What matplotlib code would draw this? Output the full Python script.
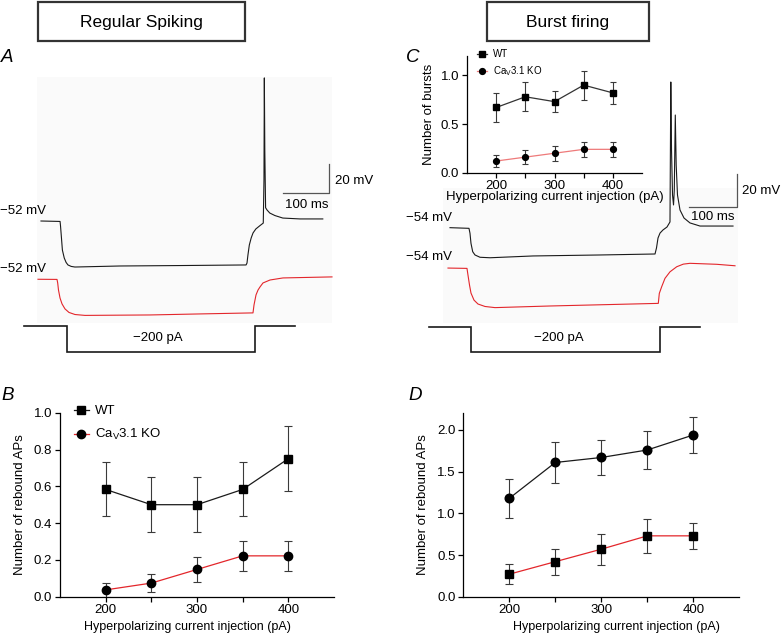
import matplotlib
matplotlib.use('Agg')
import matplotlib.pyplot as plt
from matplotlib.patches import Rectangle

plt.rcParams['font.family'] = ['Liberation Sans', 'DejaVu Sans']
plt.rcParams['mathtext.default'] = 'regular'
plt.rcParams['axes.linewidth'] = 0.9

W, H = 782, 639
fig = plt.figure(figsize=(W / 100, H / 100), dpi=100)


def box(x0, y0, x1, y1):
    return [x0 / W, 1 - y1 / H, (x1 - x0) / W, (y1 - y0) / H]


def T(px, py, s, **kw):
    return fig.text(px / W, 1 - py / H, s, **kw)


# ------------------------------------------------------------------ data
currents = [200, 250, 300, 350, 400]
ko_label = 'Ca$_\\mathregular{V}$3.1 KO'

# Panel B (regular spiking) rebound APs
B_wt = [0.583, 0.50, 0.50, 0.583, 0.75]
B_wt_err = [0.147, 0.15, 0.15, 0.147, 0.178]
B_ko = [0.037, 0.074, 0.148, 0.222, 0.222]
B_ko_err = [0.036, 0.05, 0.068, 0.08, 0.08]

# Panel C inset (burst firing) number of bursts
C_wt = [0.67, 0.78, 0.73, 0.90, 0.82]
C_wt_err = [0.15, 0.15, 0.11, 0.15, 0.11]
C_ko = [0.12, 0.16, 0.20, 0.24, 0.24]
C_ko_err = [0.065, 0.07, 0.075, 0.08, 0.08]

# Panel D (burst firing) rebound APs
D_wt = [1.18, 1.61, 1.67, 1.76, 1.94]
D_wt_err = [0.23, 0.25, 0.21, 0.23, 0.22]
D_ko = [0.27, 0.42, 0.57, 0.73, 0.73]
D_ko_err = [0.12, 0.155, 0.185, 0.20, 0.16]

# Panel A traces (ms, mV)
A_wt_t = [0, 41, 42, 44, 46, 50, 54, 58, 65, 73, 170, 300, 441, 443, 445, 448,
          452, 456, 462, 471, 478, 479.5, 480.3, 481.3, 483, 486, 492, 503, 520,
          557, 606]
A_wt_v = [-52, -52.3, -55.4, -63.5, -71.7, -77.1, -80.1, -81.8, -82.8, -83.2,
          -82.5, -82.2, -81.8, -80.5, -75.1, -68.3, -63.5, -60.1, -57.4, -55.1,
          -53.4, -24, 45, -4, -43, -44.5, -46.6, -48.3, -50.0, -50.6, -50.6]
A_ko_t = [-6.5, 34.4, 35.9, 37.6, 40.9, 45.2, 51.6, 60.2, 73.1, 94.6, 234.4,
          341.9, 455.9, 458.1, 462.4, 466.7, 471.0, 477.4, 492.5, 520.4, 625.8]
A_ko_v = [-52, -52.1, -54.5, -59.3, -64.7, -68.7, -72.1, -74.5, -75.9, -76.5,
          -76.2, -75.5, -74.8, -69.4, -62.6, -59.3, -57.2, -54.5, -52.5, -51.1,
          -50.4]
A_step_t = [-37, 56, 56, 460, 460, 546]
A_step_i = [0, 0, -200, -200, 0, 0]

# Panel C traces (ms, mV)
C_wt_t = [0, 39.8, 41.9, 44.0, 47.6, 52.4, 62.9, 83.9, 174, 314.5, 429.8,
          432.9, 436.1, 440.3, 446.5, 454.9, 461.2, 462.9, 464.4, 466.5, 468.6,
          470.2, 472.3, 474.2, 476.9, 482.2, 490.6, 503.1, 524.1, 593.3]
C_wt_v = [-53.8, -54.2, -57.2, -63.4, -68.5, -70.5, -71.9, -72.2, -71.1, -70.5,
          -69.9, -66.2, -60.1, -57.1, -55.2, -53.4, -50.3, 35.3, -6.3, -33.8,
          -39.9, -30.8, 15.1, -15.5, -33.8, -43.0, -47.9, -50.9, -52.8, -52.8]
C_ko_t = [-4.2, 35.6, 37.7, 40.9, 44.0, 50.3, 58.7, 73.4, 94.3, 209.6, 436.7,
          438.8, 443.8, 450.7, 461.2, 475.3, 489.1, 503.1, 559.1, 597.5]
C_ko_v = [-54, -54.2, -58.3, -64.4, -69.3, -73.6, -76.0, -77.5, -78.2, -77.2,
          -75.6, -69.5, -65.4, -60.3, -56.3, -53.2, -51.6, -51.1, -51.7, -52.6]
C_step_t = [-44, 44, 44, 440, 440, 524]
C_step_i = [0, 0, -200, -200, 0, 0]

BLACK = '#1a1a1a'
RED = '#e3262b'
ERR = '#3a3a3a'


# ------------------------------------------------------------------ traces
def trace_panel(rect_px, t0px, pxms, v0px, pxmv, v0, wt, ko, ko_offset,
                step, step_zero, step_scale, bar, bg):
    x0, y0, x1, y1 = rect_px
    fig.add_artist(Rectangle((bg[0] / W, 1 - bg[3] / H),
                             (bg[2] - bg[0]) / W, (bg[3] - bg[1]) / H,
                             transform=fig.transFigure, facecolor='#fafafa',
                             edgecolor='none', zorder=0))
    ax = fig.add_axes(box(*rect_px))
    ax.axis('off')
    ax.set_xlim((x0 - t0px) / pxms, (x1 - t0px) / pxms)
    ax.set_ylim(v0 - (y1 - v0px) / pxmv, v0 + (v0px - y0) / pxmv)
    ax.plot(wt[0], wt[1], color=BLACK, lw=0.8)
    ax.plot(ko[0], [v - ko_offset for v in ko[1]], color=RED, lw=0.8)
    ax.plot(step[0], [step_zero + i * step_scale for i in step[1]],
            color=BLACK, lw=1.2, solid_joinstyle='miter')
    bt, bv = bar
    ax.plot([bt - 100, bt, bt], [bv, bv, bv + 20], color='#555555', lw=0.9)
    return ax


axA = trace_panel((0, 60, 400, 360), 41, 0.465, 221, 1.475, -52,
                  (A_wt_t, A_wt_v), (A_ko_t, A_ko_v), 39.5,
                  (A_step_t, A_step_i), -123.2, 17.6 / 200, (620, -33.2),
                  (37, 77, 332, 323))
axCt = trace_panel((400, 60, 782, 360), 450, 0.477, 228, 1.635, -54,
                   (C_wt_t, C_wt_v), (C_ko_t, C_ko_v), 24.5,
                   (C_step_t, C_step_i), -114.6, 15.3 / 200, (601, -41.0),
                   (443, 188, 738, 323))

fs_small = 9.5
T(0, 211, '\u221252 mV', fontsize=fs_small, va='center', ha='left')
T(0, 269, '\u221252 mV', fontsize=fs_small, va='center', ha='left')
T(335, 181, '20 mV', fontsize=fs_small, va='center', ha='left')
T(306.5, 205, '100 ms', fontsize=fs_small, va='center', ha='center')
T(158, 338, '\u2212200 pA', fontsize=fs_small, va='center', ha='center')

T(406, 218, '\u221254 mV', fontsize=fs_small, va='center', ha='left')
T(406, 257, '\u221254 mV', fontsize=fs_small, va='center', ha='left')
T(742, 191, '20 mV', fontsize=fs_small, va='center', ha='left')
T(712.5, 217, '100 ms', fontsize=fs_small, va='center', ha='center')
T(559, 338, '\u2212200 pA', fontsize=fs_small, va='center', ha='center')

# title boxes
for (bx0, by0, bx1, by1, lab) in [(38, 2, 245, 41, 'Regular Spiking'),
                                  (487, 2, 649, 41, 'Burst firing')]:
    fig.add_artist(Rectangle((bx0 / W, 1 - by1 / H), (bx1 - bx0) / W,
                             (by1 - by0) / H, transform=fig.transFigure,
                             facecolor='white', edgecolor='#333333', lw=1.6))
    T((bx0 + bx1) / 2, (by0 + by1) / 2 + 1, lab, fontsize=12.5, ha='center',
      va='center')

# panel letters
for (px, py, lab) in [(1, 57, 'A'), (406, 58, 'C'), (1, 395, 'B'),
                      (408, 395, 'D')]:
    T(px, py, lab, fontsize=13.5, style='italic', ha='left', va='center')


# ------------------------------------------------------------------ stats
def stat_axes(rect_px, ylim, yticks, fs):
    ax = fig.add_axes(box(*rect_px))
    ax.set_facecolor('none')
    ax.set_xlim(150, 450)
    ax.set_ylim(*ylim)
    ax.spines['top'].set_visible(False)
    ax.spines['right'].set_visible(False)
    ax.set_xticks([200, 300, 400])
    ax.set_xticks([250, 350], minor=True)
    ax.set_yticks(yticks)
    ax.set_yticklabels(['%.1f' % v for v in yticks])
    ax.tick_params(which='both', direction='out', length=3.5, width=0.9,
                   labelsize=fs, pad=2)
    return ax


def series(ax, y, err, marker, lcolor, ms, cap, label=None):
    ax.errorbar(currents, y, yerr=err, fmt='none', ecolor=ERR, elinewidth=0.8,
                capsize=cap, capthick=0.8, zorder=2)
    ax.plot(currents, y, color=lcolor, lw=0.9, marker=marker, ms=ms,
            mfc='black', mec='black', zorder=3, label=label)


XLAB = 'Hyperpolarizing current injection (pA)'

axB = stat_axes((60, 412.7, 334, 596.7), (0, 1.0),
                [0, 0.2, 0.4, 0.6, 0.8, 1.0], 9.5)
series(axB, B_wt, B_wt_err, 's', BLACK, 6, 3, 'WT')
series(axB, B_ko, B_ko_err, 'o', RED, 6, 3, ko_label)
axB.set_ylabel('Number of rebound APs', fontsize=9.5, labelpad=6)
axB.set_xlabel(XLAB, fontsize=9, labelpad=5)
axB.xaxis.set_label_coords((187 - 60) / 274, -0.13)
axB.legend(loc='upper left', bbox_to_anchor=(74 / W, 1 - 405 / H),
           bbox_transform=fig.transFigure, frameon=False, fontsize=9.5,
           handlelength=1.1, handletextpad=0.5, labelspacing=0.75,
           borderpad=0, borderaxespad=0)

axD = stat_axes((463.3, 413.3, 739.3, 596.7), (0, 2.2),
                [0, 0.5, 1.0, 1.5, 2.0], 9.5)
series(axD, D_wt, D_wt_err, 'o', BLACK, 6.2, 3)
series(axD, D_ko, D_ko_err, 's', RED, 6, 3)
axD.set_ylabel('Number of rebound APs', fontsize=9.5, labelpad=6)
axD.set_xlabel(XLAB, fontsize=9, labelpad=5)
axD.xaxis.set_label_coords((616 - 463.3) / 276, -0.13)

axC = stat_axes((467, 55.9, 642, 172.7), (0, 1.2), [0, 0.5, 1.0], 9.5)
series(axC, C_wt, C_wt_err, 's', '#333333', 4.2, 2.2, 'WT')
series(axC, C_ko, C_ko_err, 'o', '#ee7a7a', 4.2, 2.2, ko_label)
axC.set_ylabel('Number of bursts', fontsize=9.5, labelpad=4)
axC.set_xlabel(XLAB, fontsize=9.5, labelpad=-1)
axC.legend(loc='upper left', bbox_to_anchor=(477 / W, 1 - 49 / H),
           bbox_transform=fig.transFigure, frameon=False, fontsize=7,
           handlelength=1.0, handletextpad=0.6, labelspacing=0.55,
           borderpad=0, borderaxespad=0)

fig.savefig('out.png', dpi=100, facecolor='white')
